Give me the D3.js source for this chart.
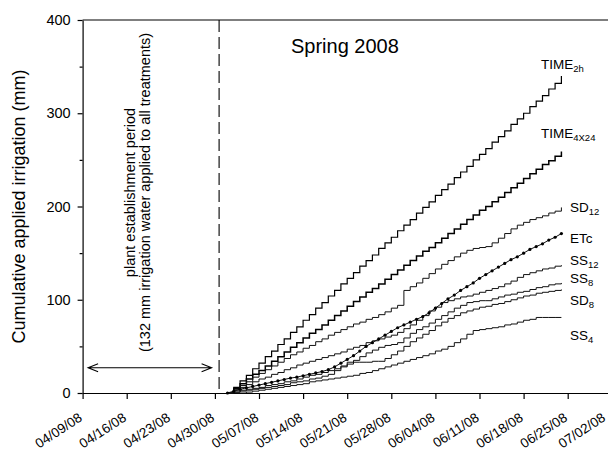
<!DOCTYPE html>
<html lang="en">
<head>
<meta charset="utf-8">
<title>Cumulative applied irrigation - Spring 2008</title>
<script src="https://cdn.jsdelivr.net/npm/d3@7"></script>
<style>
  body { margin: 0; background: #fff; }
  svg { display: block; font-family: Arial, "Liberation Sans", sans-serif; }
</style>
</head>
<body>
<script>
// ---- data (mm of cumulative irrigation, one value per day) ----
var seasonStart = "05/02/08";
var establishEnd = "04/30/08 16:00";
var tickDates = ["04/09/08", "04/16/08", "04/23/08", "04/30/08", "05/07/08", "05/14/08",
                 "05/21/08", "05/28/08", "06/04/08", "06/11/08", "06/18/08", "06/25/08", "07/02/08"];
var yTicks = [0, 100, 200, 300, 400];
var yMinorTicks = [50, 150, 250, 350];

var time2h = [0, 6, 13, 19, 26, 32, 39, 45, 52, 58, 65, 71, 78, 84, 91, 97, 104, 110, 117, 123,
              129, 136, 142, 148, 155, 161, 167, 174, 180, 186, 193, 199, 205, 212, 218, 224, 231, 237, 243, 250,
              256, 262, 269, 275, 281, 288, 294, 300, 307, 313, 319, 326, 332, 340];
var time4x24 = [0, 5, 10, 15, 20, 24, 29, 34, 39, 44, 49, 54, 59, 64, 68, 73, 78, 83, 88, 93,
                98, 103, 108, 112, 117, 122, 127, 132, 137, 142, 147, 152, 156, 161, 166, 171, 176, 181, 186, 191,
                196, 200, 205, 210, 215, 220, 225, 230, 235, 240, 245, 249, 254, 259];
var sd12 = [0, 4, 8, 12, 17, 21, 25, 29, 33, 37, 41, 44, 48, 51, 55, 58, 62, 65, 68, 71,
            74, 76, 79, 81, 84, 87, 91, 94, 110, 114, 118, 123, 128, 133, 138, 142, 146, 150, 153, 155,
            156, 157, 161, 166, 171, 176, 180, 183, 186, 188, 190, 193, 195, 199];
var etc = [0, 2, 4, 5.5, 7, 8.5, 10, 11.5, 13, 14.5, 16, 17, 18.5, 20, 21.5, 23, 25, 28, 32, 36,
           40, 45, 50, 54, 58, 62, 66, 70, 73, 76, 79, 82, 86, 91, 96, 101, 105, 110, 114, 118,
           123, 127, 131, 135, 139, 143, 146, 150, 154, 157, 160, 164, 167, 171];
var ss12 = [0, 3, 6, 9, 12, 15, 17, 20, 22, 25, 27, 30, 32, 34, 36, 38, 40, 42, 44, 47,
            49, 51, 54, 56, 58, 60, 62, 65, 69, 73, 78, 83, 88, 92, 97, 99, 101, 103, 104, 106,
            108, 110, 112, 114, 117, 120, 124, 127, 129, 131, 133, 134, 136, 137];
var ss8 = [0, 1, 3, 4, 5, 6, 8, 9, 10, 12, 13, 15, 17, 19, 20, 22, 24, 26, 28, 31,
           35, 39, 43, 46, 49, 51, 52, 54, 59, 64, 68, 71, 75, 79, 83, 87, 91, 94, 97, 98,
           99, 99, 101, 103, 105, 106, 108, 109, 111, 113, 114, 116, 117, 118];
var sd8 = [0, 1, 2, 3, 4, 5, 6, 7, 8, 9, 11, 12, 13, 15, 16, 18, 20, 24, 29, 33,
           33, 33, 33, 34, 34, 37, 41, 45, 50, 55, 59, 63, 67, 72, 76, 80, 83, 86, 88, 90,
           92, 93, 95, 96, 98, 100, 102, 104, 105, 107, 108, 109, 110, 111];
var ss4 = [0, 0, 0, 1, 2, 3, 4, 5, 6, 7, 8, 9, 10, 12, 13, 14, 15, 16, 17, 18,
           19, 21, 22, 24, 26, 28, 30, 32, 34, 36, 38, 40, 42, 45, 47, 50, 54, 58, 63, 67,
           68, 69, 70, 71, 73, 74, 76, 78, 79, 81, 81, 81, 81, 81];

var seriesNames = ["TIME_2h", "TIME_4X24", "SD_12", "ETc", "SS_12", "SS_8", "SD_8", "SS_4"];
var seriesValues = [time2h, time4x24, sd12, etc, ss12, ss8, sd8, ss4];

// ---- layout ----
var W = 608, H = 451;
var plotL = 82.6, plotT = 20, plotB = 393, plotR = 611.8;

var parseDay = d3.timeParse("%m/%d/%y");
var parseHour = d3.timeParse("%m/%d/%y %H:%M");
var fmt = d3.timeFormat("%m/%d/%y");

var ticks = tickDates.map(parseDay);
var start = parseDay(seasonStart);

var x = d3.scaleTime()
          .domain([ticks[0], ticks[ticks.length - 1]])
          .range([plotL, plotR]);
var y = d3.scaleLinear()
          .domain([0, 400])
          .range([plotB, plotT]);

var svg = d3.select("body")
            .append("svg")
            .attr("width", W)
            .attr("height", H);

// frame (top and right sides; right side falls just outside the picture)
svg.append("path")
   .attr("d", "M" + plotL + "," + plotT + "H" + plotR + "V" + plotB)
   .attr("fill", "none")
   .attr("stroke", "#000")
   .attr("stroke-width", 1.2);

// x axis
var xAxis = svg.append("g")
               .attr("transform", "translate(0," + plotB + ")")
               .call(d3.axisBottom(x).tickValues(ticks).tickFormat(fmt).tickSizeInner(6).tickSizeOuter(0));
xAxis.selectAll("path, line").attr("stroke", "#000").attr("stroke-width", 1.2);
xAxis.selectAll("text")
     .attr("x", 0).attr("y", 0).attr("dy", 0)
     .attr("text-anchor", "end")
     .attr("transform", (d, i) => "translate(" + (i === ticks.length - 1 ? -6 : 0) + ",27) rotate(-33)")
     .attr("font-size", "13.5px")
     .attr("font-family", "Arial, 'Liberation Sans', sans-serif")
     .attr("fill", "#000");

// y axis
var yAxis = svg.append("g")
               .attr("transform", "translate(" + plotL + ",0)")
               .call(d3.axisLeft(y).tickValues(yTicks).tickSizeInner(5).tickSizeOuter(0).tickPadding(7));
yAxis.selectAll("path, line").attr("stroke", "#000").attr("stroke-width", 1.2);
yAxis.selectAll("text")
     .attr("font-size", "14.5px")
     .attr("font-family", "Arial, 'Liberation Sans', sans-serif")
     .attr("fill", "#000");

svg.append("g")
   .attr("transform", "translate(" + plotL + ",0)")
   .call(d3.axisLeft(y).tickValues(yMinorTicks).tickSize(3).tickFormat(""))
   .call(g => g.select(".domain").remove())
   .selectAll("line").attr("stroke", "#000").attr("stroke-width", 1.2);

svg.append("text")
   .attr("transform", "translate(25," + ((plotT + plotB) / 2) + ") rotate(-90)")
   .attr("text-anchor", "middle")
   .attr("font-size", "18px")
   .text("Cumulative applied irrigation (mm)");

// establishment period marker
var xEst = x(parseHour(establishEnd));
svg.append("line")
   .attr("x1", xEst).attr("x2", xEst)
   .attr("y1", plotT).attr("y2", plotB)
   .attr("stroke", "#000")
   .attr("stroke-width", 1.1)
   .attr("stroke-dasharray", "12,5");

var ay = y(27), ax1 = plotL + 5.5, ax2 = xEst - 7.5;
svg.append("path")
   .attr("d", "M" + ax1 + "," + ay + "H" + ax2 +
              "M" + (ax1 + 10) + "," + (ay - 4) + "L" + ax1 + "," + ay + "L" + (ax1 + 10) + "," + (ay + 4) +
              "M" + (ax2 - 10) + "," + (ay - 4) + "L" + ax2 + "," + ay + "L" + (ax2 - 10) + "," + (ay + 4))
   .attr("fill", "none")
   .attr("stroke", "#000")
   .attr("stroke-width", 1.1);

svg.append("text")
   .attr("transform", "translate(134.5,192.5) rotate(-90)")
   .attr("text-anchor", "middle")
   .attr("font-size", "14.5px")
   .text("plant establishment period");
svg.append("text")
   .attr("transform", "translate(150,192.5) rotate(-90)")
   .attr("text-anchor", "middle")
   .attr("font-size", "14.5px")
   .text("(132 mm irrigation water applied to all treatments)");

svg.append("text")
   .attr("x", 291).attr("y", 53)
   .attr("font-size", "20px")
   .text("Spring 2008");

// ---- series ----
var day = i => d3.timeDay.offset(start, i);
var stepLine = d3.line().x((d, i) => x(day(i))).y(d => y(d)).curve(d3.curveStepAfter);
var plainLine = d3.line().x((d, i) => x(day(i))).y(d => y(d));

var widths = [1.2, 1.5, 1, 1, 1, 1, 1, 1];
seriesValues.forEach(function(vals, k) {
    svg.append("path")
       .datum(vals)
       .attr("d", seriesNames[k] === "ETc" ? plainLine : stepLine)
       .attr("fill", "none")
       .attr("stroke", k < 2 ? "#000" : "#111")
       .attr("stroke-width", widths[k])
       .attr("stroke-linejoin", "miter");
});

svg.append("g")
   .selectAll("circle")
   .data(etc)
   .enter()
   .append("circle")
   .attr("cx", (d, i) => x(day(i)))
   .attr("cy", d => y(d))
   .attr("r", 1.6)
   .attr("fill", "#000");

// ---- series labels ----
var labelPos = [[541, 69], [541, 138], [570, 212], [570, 243], [570, 265], [570, 283], [570, 305], [570, 340]];
seriesNames.forEach(function(name, k) {
    var parts = name.split("_");
    var t = svg.append("text")
               .attr("x", labelPos[k][0])
               .attr("y", labelPos[k][1])
               .attr("font-size", "13.5px");
    t.append("tspan").text(parts[0]);
    if (parts[1]) {
        t.append("tspan")
         .attr("font-size", "9.5px")
         .attr("dy", 3)
         .text(parts[1]);
    }
});
</script>
</body>
</html>
